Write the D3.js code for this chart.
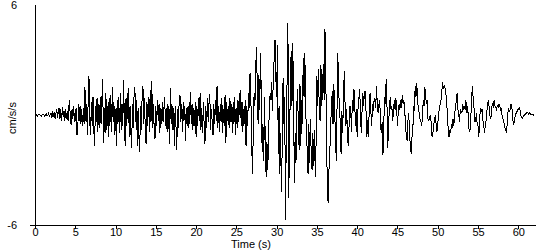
<!DOCTYPE html>
<html>
<head>
<meta charset="utf-8">
<script src="https://cdn.jsdelivr.net/npm/d3@7"></script>
<style>
  body { margin: 0; background: #fff; }
  svg { display: block; }
  text { font-family: "Liberation Sans", Arial, sans-serif; font-size: 11px; fill: #000; }
</style>
</head>
<body>
<svg width="550" height="250"></svg>
<script>
// muestreo del registro (s)
const dt = 0.1;

// aceleración en cm/s/s, por tramos de 10 s
const accel00 = [
  0, 0.05, 0, -0.05, 0, 0.05, 0, 0, -0.05, 0,
  0.05, 0, -0.05, 0, 0.05, -0.05, 0, 0.1, -0.1, 0.05,
  0.1, -0.15, 0.2, -0.1, 0.15, -0.2, 0.1, 0.3, -0.15, 0.2,
  0.4, -0.2, 0.3, -0.3, 0.45, -0.1, 0.2, -0.35, 0.3, -0.2,
  0.2, -0.3, 0.5, 0.8, -0.4, -0.55, 0.3, -0.2, 0.5, -0.4,
  -0.3, 0.4, -1.1, -1.0, 0.6, -0.3, 0.5, -0.5, 0.3, -0.6,
  0.4, -0.5, 1.5, -0.3, 0.6, -1.1, 0.8, 2.1, -0.4, -1.1,
  0.7, -0.6, 1.0, -0.8, -1.7, 0.5, -0.4, 0.9, -0.9, 0.6,
  -0.7, 1.0, -0.5, 0.8, 1.95, -1.5, 0.4, -1.0, 1.2, -0.8,
  0.5, -1.2, 0.9, -0.6, 1.1, -0.9, 1.5, -0.4, 0.7, -1.1
];
const accel10 = [
  0.3, -1.7, 0.8, -0.5, 1.0, -1.0, 1.2, -0.8, 0.6, -0.6,
  1.9, -0.5, -1.7, 0.9, -0.6, 1.0, 1.45, -1.2, 0.5, -0.9,
  -1.8, 0.6, -0.7, 1.1, 1.5, -0.4, 0.8, -1.7, 0.4, -1.2,
  -2.0, 0.5, -0.8, 1.0, 1.6, -0.5, 0.9, -1.0, -1.6, 0.7,
  -0.6, 1.0, -0.9, 1.35, -0.4, 1.85, -0.7, 0.6, -0.8, -1.3,
  0.5, -0.6, 0.8, -0.3, 0.6, -1.0, 0.4, -0.5, 0.7, -0.4,
  0.3, 1.0, -0.6, 0.4, -0.9, 0.6, -0.3, -1.6, 1.45, -0.5,
  0.6, -0.8, 0.4, -1.7, 0.5, -0.6, -1.9, 0.3, -0.7, 0.8,
  1.1, -0.4, 0.6, -0.9, 0.7, -0.3, 0.5, -1.4, 0.4, -0.6,
  0.5, -0.7, 0.3, 1.25, -0.5, 0.6, -0.8, 0.4, -0.6, 0.7
];
const accel20 = [
  -1.2, 0.5, -0.6, 0.9, -0.3, 1.2, -0.8, 0.4, -1.0, 0.7,
  -0.5, -1.6, 0.5, -0.7, 0.9, -0.4, 0.6, 1.15, -0.8, 0.3,
  -0.4, -1.1, 0.6, -0.5, 0.8, -0.3, 1.6, -0.7, 0.5, -0.9,
  0.6, -0.4, 0.9, -1.0, 0.3, -0.6, 1.1, -1.5, 0.7, -0.3,
  0.5, -0.7, 0.9, -0.4, 0.6, -1.0, 0.7, -0.5, 1.0, -1.1,
  0.4, -0.7, 0.8, -0.4, 1.0, 1.35, -0.6, 0.7, -0.9, 0.3,
  -0.5, 0.8, -1.7, 0.5, -0.6, 1.2, 0.4, 2.3, 0.9, -1.5,
  -3.2, -1.0, 1.2, 0.5, 2.6, 3.7, 1.5, -0.5, 2.2, 0.3,
  3.4, 1.0, -2.0, -0.5, -2.5, 1.0, -1.8, -3.4, -1.5, -3.0,
  -1.2, 0.5, 1.2, 0.8, 1.8, 0.2, 2.5, 3.0, 4.1, 2.0
];
const accel30 = [
  1.0, 3.8, -2.1, 0.5, -3.2, -1.0, -4.2, -1.5, 2.0, -0.5,
  1.0, -5.7, -1.0, 2.0, 5.0, -4.5, -1.5, 1.5, 3.5, 0.5,
  3.9, 1.0, -3.7, -1.0, -2.6, 0.5, 1.4, -0.8, -1.9, 1.7,
  -1.7, 0.8, -0.5, 3.1, 1.0, 3.4, 0.5, -1.0, -2.0, -3.2,
  -0.5, -2.6, -0.2, -2.4, -3.0, -1.0, -2.8, -0.8, -3.4, -1.5,
  2.1, 0.5, 2.5, 0, -0.3, 2.7, 0.5, 1.5, 2.8, 0.8,
  4.7, 2.0, -1.0, -4.4, -4.8, -3.0, -2.1, -0.5, 0.3, 1.3,
  -0.5, 1.7, 0.2, -1.0, -2.5, 0.5, 3.4, 1.0, 0.8, -0.6,
  -2.1, 0.2, -1.0, 1.0, 2.4, 0.5, -0.6, 0.3, -1.2, -1.7,
  -0.5, 0.5, 0.2, -0.9, 0.8, 0.2, 1.4, 0.5, -0.6, 0.3
];
const accel40 = [
  -1.2, 0.3, 0.8, 1.4, 0.4, -1.0, 0.2, 1.2, 0.5, 1.3,
  1.3, 0.2, -1.2, -0.3, -1.2, 0.4, 1.2, 0.2, -0.6, 0.6,
  0.2, 0.8, 0.9, 0.4, 1.6, 0.5, 0.1, 0.6, 0.8, -0.5,
  -1.0, -0.4, -2.2, -0.5, 1.0, 0.6, 1.95, 0.5, -1.8, -0.3,
  0.2, 1.0, 0.3, 0.5, -0.3, 0.1, 0.8, 0.3, 0.9, 0.4,
  -0.6, 0.2, 0.6, 0.3, 0.8, 0.4, 1.1, 0.6, 0.8, 0.2,
  -0.4, -1.2, -1.4, -0.3, 0.1, -1.0, -1.7, -2.1, -1.2, -1.0,
  0.5, 0.2, 1.6, 1.0, 1.75, 0.8, 0.3, 0.1, -0.2, -0.3,
  -0.6, -0.2, 0.8, 0.5, 1.5, 1.0, 0.6, 0.8, -0.3, -0.3,
  -0.1, 0.0, -0.5, -1.2, -1.0, -0.6, -0.2, -0.1, -0.5, -0.9
];
const accel50 = [
  -0.6, 0.1, 0.3, 0.6, 0.8, 1.2, 1.8, 1.4, 1.6, 1.5,
  1.2, 0.8, 0.0, -0.8, -1.2, -0.9, -1.0, -0.5, -0.6, -0.2,
  -0.6, 0.1, 0.4, 0.8, 1.2, 0.3, 0.1, -0.4, 0.3, 0.2,
  0.1, 0.6, 0.3, 0.5, 0.3, 0.8, 0.1, 0.5, -0.1, -0.9,
  -0.9, -0.2, 0.8, 1.6, 0.9, 0.4, -0.4, -0.3, 0.1, -0.5,
  -0.6, -1.2, -0.3, 0.4, 0.2, 0.3, -0.3, -0.5, -1.0, -0.6,
  -0.3, 0.2, 0.6, 0.8, 0.3, -0.1, -0.2, 0.4, 0.6, 0.5,
  0.8, 0.5, 0.4, 0.3, 0.5, 0.4, 0.6, 0.5, 0.3, 0.4,
  -0.1, -0.2, -0.4, -0.6, -0.8, -0.9, -0.6, 0.1, 0.3, 0.2,
  0.3, 0.6, 0.5, -0.2, -0.5, -0.4, -0.1, 0.1, 0.1, 0.3
];
const accel60 = [
  0.3, 0.4, 0.3, 0.0, -0.1, -0.2, -0.1, 0.0, 0.0, 0.05,
  0.1, 0.15, 0.1, 0.05, 0.1, 0.05, 0.05, 0.0, 0.05, 0.0, 0.0
];

const accel = [].concat(accel00, accel10, accel20, accel30, accel40, accel50, accel60);
const xTicks = [0, 5, 10, 15, 20, 25, 30, 35, 40, 45, 50, 55, 60];
const yTicks = [-6, 6];

const svg = d3.select("svg");

const x = d3.scaleLinear().domain([0, 62.2]).range([35, 536]);
const y = d3.scaleLinear().domain([-6, 6]).range([225, 5]);

// registro
const line = d3.line()
  .x((d, i) => x(i * dt))
  .y(d => y(d));

svg.append("path")
  .datum(accel)
  .attr("fill", "none")
  .attr("stroke", "#000")
  .attr("stroke-width", 1)
  .attr("shape-rendering", "crispEdges")
  .attr("d", line);

// eje X
const xAxis = svg.append("g")
  .attr("transform", "translate(0," + y(-6) + ")")
  .call(d3.axisBottom(x).tickValues(xTicks).tickSize(4).tickPadding(0).tickFormat(d3.format("d")));
xAxis.select(".domain").remove();
xAxis.selectAll("line").attr("shape-rendering", "crispEdges");
xAxis.selectAll("text").attr("font-family", null).attr("font-size", null).attr("dy", "0.62em");

svg.append("line")
  .attr("x1", 30).attr("x2", x(62.2))
  .attr("y1", y(-6) + 0.5).attr("y2", y(-6) + 0.5)
  .attr("stroke", "#000");

// eje Y
svg.append("line")
  .attr("x1", x(0) + 0.5).attr("x2", x(0) + 0.5)
  .attr("y1", y(6)).attr("y2", y(-6))
  .attr("stroke", "#000");

svg.selectAll(".ylab")
  .data(yTicks)
  .enter().append("text")
  .attr("class", "ylab")
  .attr("x", 17)
  .attr("y", d => y(d) + 4)
  .attr("text-anchor", "end")
  .text(d => d);

// títulos
svg.append("text")
  .attr("x", 251)
  .attr("y", 248)
  .attr("text-anchor", "middle")
  .text("Time (s)");

svg.append("text")
  .attr("transform", "translate(16,118) rotate(-90)")
  .attr("text-anchor", "middle")
  .text("cm/s/s");
</script>
</body>
</html>
